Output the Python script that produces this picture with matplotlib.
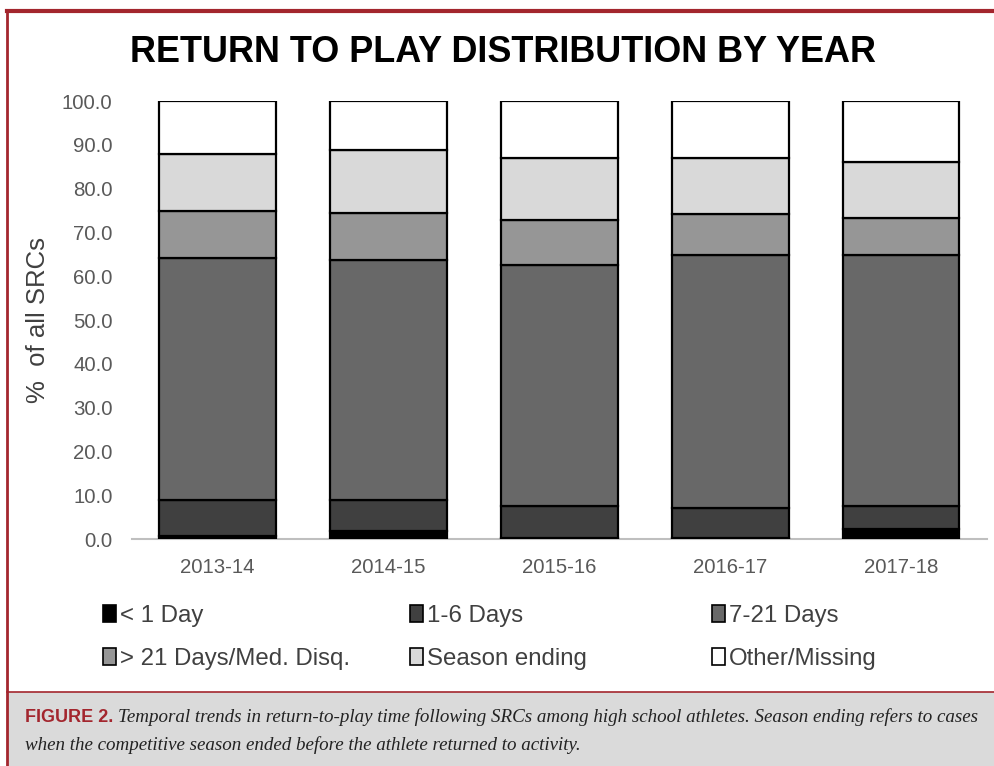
import matplotlib.pyplot as plt
from matplotlib.patches import Patch, Rectangle
from matplotlib.lines import Line2D
import numpy as np

years = ['2013-14', '2014-15', '2015-16', '2016-17', '2017-18']
categories = ['< 1 Day', '1-6 Days', '7-21 Days', '> 21 Days/Med. Disq.',
              'Season ending', 'Other/Missing']
less_1_day = [0.8, 1.8, 0.3, 0.3, 2.3]
days_1_6 = [8.0, 7.0, 7.2, 6.8, 5.2]
days_7_21 = [55.4, 55.0, 55.1, 57.7, 57.3]
over_21_days = [10.7, 10.7, 10.2, 9.4, 8.5]
season_ending = [13.0, 14.3, 14.2, 12.8, 12.8]
other_missing = [12.1, 11.2, 13.0, 13.0, 13.9]

series = [less_1_day, days_1_6, days_7_21, over_21_days, season_ending, other_missing]
colors = ['#000000', '#404040', '#686868', '#969696', '#d9d9d9', '#ffffff']

plt.rcParams['font.family'] = ['Liberation Sans', 'DejaVu Sans']

fig = plt.figure(figsize=(9.94, 7.66), dpi=100)
ax = fig.add_axes([0.1328, 0.2963, 0.860, 0.5718])

x = np.arange(len(years))
bottom = np.zeros(len(years))
for vals, col in zip(series, colors):
    ax.bar(x, vals, width=0.68, bottom=bottom, color=col,
           edgecolor='black', linewidth=1.6, zorder=3)
    bottom += np.array(vals)

ax.set_xlim(-0.5, len(years) - 0.5)
ax.set_ylim(0, 100)
ax.set_yticks(np.arange(0, 101, 10))
ax.set_yticklabels(['%.1f' % v for v in np.arange(0, 101, 10)])
ax.set_xticks(x)
ax.set_xticklabels(years)
ax.tick_params(axis='y', length=0, pad=14, labelsize=14.7, labelcolor='#595959')
ax.tick_params(axis='x', length=0, pad=14, labelsize=14.7, labelcolor='#595959')
for s in ['top', 'right', 'left']:
    ax.spines[s].set_visible(False)
ax.spines['bottom'].set_color('#bfbfbf')
ax.spines['bottom'].set_linewidth(1.5)

ax.set_ylabel('%  of all SRCs', fontsize=18.5, color='#404040')
ax.yaxis.set_label_coords(-0.096, 0.5)

fig.text(0.506, 0.931, 'RETURN TO PLAY DISTRIBUTION BY YEAR',
         ha='center', va='center', fontsize=25.9, fontweight='bold', color='black')

# legend: three columns of two rows
col_x = [103, 410, 712]
for c in range(3):
    idx = [c, c + 3]
    handles = [Patch(facecolor=colors[i], edgecolor='black', linewidth=1.2) for i in idx]
    fig.legend(handles, [categories[i] for i in idx], loc='center left',
               bbox_to_anchor=(col_x[c] / 994, 1 - 637.5 / 766),
               frameon=False, fontsize=17.3, labelcolor='#404040',
               handlelength=0.55, handleheight=0.7, handletextpad=0.15,
               labelspacing=0.85, borderpad=0, borderaxespad=0)

# frame and caption
red = '#a3262e'
fig.add_artist(Line2D([7 / 994, 1], [1 - 11 / 766, 1 - 11 / 766], color=red, lw=3,
                      transform=fig.transFigure))
fig.add_artist(Line2D([7 / 994, 7 / 994], [0, 1 - 11 / 766], color=red, lw=2,
                      transform=fig.transFigure))
fig.add_artist(Rectangle((7 / 994, 0), 1, 1 - 692 / 766, facecolor='#dadada',
                         edgecolor='none', transform=fig.transFigure, zorder=-1))
fig.add_artist(Line2D([7 / 994, 1], [1 - 692 / 766, 1 - 692 / 766], color=red, lw=1.2,
                      transform=fig.transFigure))

fig.text(25 / 994, 1 - 717 / 766, 'FIGURE 2.', ha='left', va='center',
         fontsize=13, fontweight='bold', color=red)
fig.text(118 / 994, 1 - 717 / 766,
         'Temporal trends in return-to-play time following SRCs among high school '
         'athletes. Season ending refers to cases',
         ha='left', va='center', fontsize=13.65, style='italic',
         family=['Liberation Serif', 'DejaVu Serif'], color='#222222')
fig.text(25 / 994, 1 - 745 / 766,
         'when the competitive season ended before the athlete returned to activity.',
         ha='left', va='center', fontsize=13.65, style='italic',
         family=['Liberation Serif', 'DejaVu Serif'], color='#222222')

fig.savefig('out.png', dpi=100)
